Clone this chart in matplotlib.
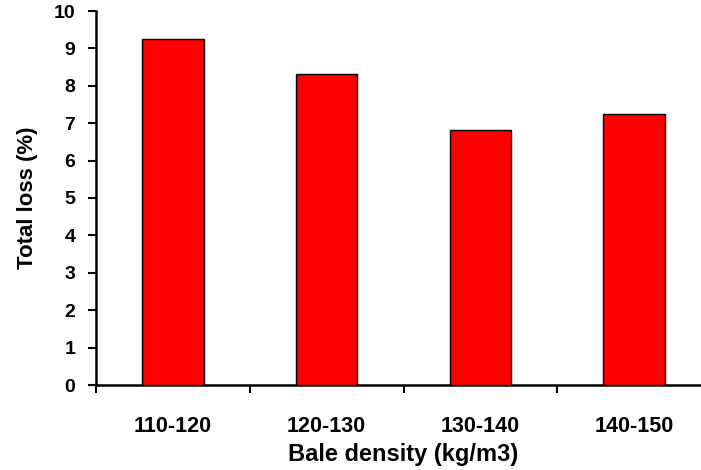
import matplotlib
matplotlib.use("Agg")
import matplotlib.pyplot as plt

categories = ["110-120", "120-130", "130-140", "140-150"]
total_loss = [9.25, 8.31, 6.83, 7.25]
y_ticks = [0, 1, 2, 3, 4, 5, 6, 7, 8, 9, 10]

plt.rcParams['font.family'] = ['Liberation Sans', 'DejaVu Sans']
plt.rcParams['font.weight'] = 'bold'

fig = plt.figure(figsize=(7.01, 4.70), dpi=100)
W, H = 701, 470
left, right, top, bottom = 96, 711, 11, 385
ax = fig.add_axes([left / W, 1 - bottom / H, (right - left) / W, (bottom - top) / H])

x = list(range(len(categories)))
ax.bar(x, total_loss, width=0.40, color="#ff0000", edgecolor="black", linewidth=1.0, zorder=3)

ax.set_xlim(-0.5, len(categories) - 0.5)
ax.set_ylim(0, 10)
ax.set_yticks(y_ticks)
ax.set_yticklabels([str(v) for v in y_ticks], fontsize=14, fontweight='bold')

ax.set_xticks([i - 0.5 for i in range(len(categories))])
ax.set_xticklabels([])
ax.set_xticks(x, minor=True)
ax.set_xticklabels(categories, minor=True, fontsize=15.5, fontweight='bold')
ax.tick_params(axis='x', which='minor', length=0, pad=22)
ax.tick_params(axis='x', which='major', length=6, width=1.5, direction='out')
ax.tick_params(axis='y', length=6, width=1.5, direction='out', pad=9)

for s in ['top', 'right']:
    ax.spines[s].set_visible(False)
for s in ['left', 'bottom']:
    ax.spines[s].set_linewidth(1.8)

ax.set_xlabel("Bale density (kg/m3)", fontsize=17, fontweight='bold', labelpad=5)
ax.set_ylabel("Total loss (%)", fontsize=16, fontweight='bold', labelpad=11)

fig.savefig("out.png", dpi=100)
